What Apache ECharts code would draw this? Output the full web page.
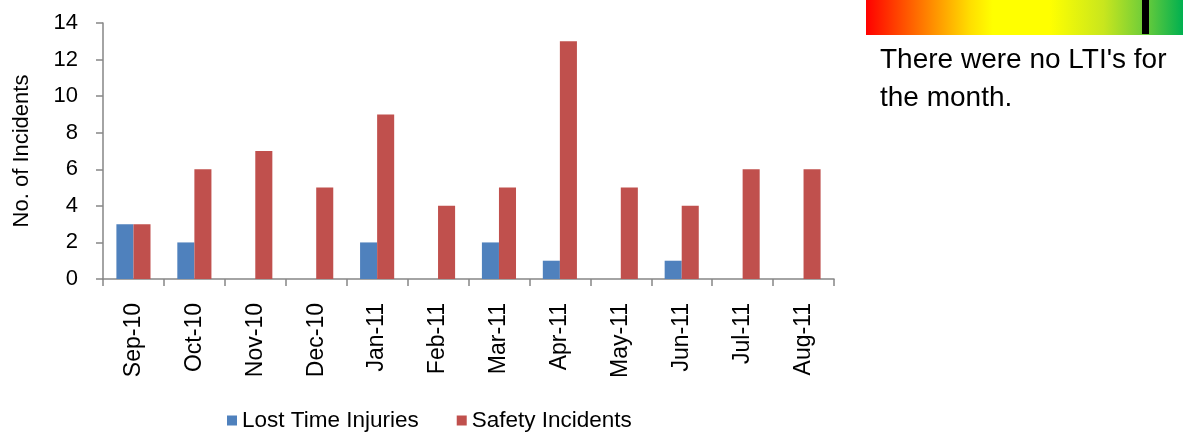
<!DOCTYPE html>
<html><head><meta charset="utf-8">
<script src="https://cdn.jsdelivr.net/npm/echarts@6/dist/echarts.min.js"></script>
<style>html,body{margin:0;padding:0;background:#fff}#c{width:1183px;height:433px}</style>
</head><body><div id="c"></div>
<script>
const categories = ['Sep-10','Oct-10','Nov-10','Dec-10','Jan-11','Feb-11','Mar-11','Apr-11','May-11','Jun-11','Jul-11','Aug-11'];
const lostTimeInjuries = [3,2,0,0,2,0,2,1,0,1,0,0];
const safetyIncidents = [3,6,7,5,9,4,5,13,5,4,6,6];
const seriesNames = ['Lost Time Injuries','Safety Incidents'];
const yAxisTitle = 'No. of Incidents';
const noteLines = ["There were no LTI's for", 'the month.'];

const font = '"Liberation Sans", Arial, sans-serif';
const chart = echarts.init(document.getElementById('c'), null, {renderer:'canvas'});
chart.setOption({
  animation:false,
  textStyle:{fontFamily:font},
  grid:{left:103,right:349,top:23,bottom:154,containLabel:false},
  legend:{
    data:seriesNames, left:222, top:404, itemWidth:10, itemHeight:10, itemGap:38,
    icon:'rect', textStyle:{fontSize:22.5,color:'#000',fontFamily:font}
  },
  xAxis:{
    type:'category', data:categories,
    axisLine:{lineStyle:{color:'#868686',width:1.5}},
    axisTick:{show:true,length:7,alignWithLabel:false,lineStyle:{color:'#868686',width:1.5}},
    axisLabel:{rotate:90,fontSize:23,color:'#000',margin:24,fontFamily:font}
  },
  yAxis:{
    type:'value', min:0, max:14, interval:2,
    name:yAxisTitle, nameLocation:'middle', nameGap:70, nameRotate:90,
    nameTextStyle:{fontSize:22,color:'#000',fontFamily:font},
    axisLine:{show:true,lineStyle:{color:'#868686',width:1.5}},
    axisTick:{show:true,length:7,lineStyle:{color:'#868686',width:1.5}},
    splitLine:{show:false},
    axisLabel:{fontSize:22,color:'#000',margin:25,fontFamily:font}
  },
  series:[
    {name:seriesNames[0],type:'bar',data:lostTimeInjuries,barGap:'0%',barCategoryGap:'44%',itemStyle:{color:'#4f81bd'}},
    {name:seriesNames[1],type:'bar',data:safetyIncidents,barGap:'0%',barCategoryGap:'44%',itemStyle:{color:'#c0504d'}}
  ],
  graphic:[
    {type:'rect',left:866,top:0,shape:{width:317,height:35},
     style:{fill:new echarts.graphic.LinearGradient(0,0,1,0,[
       {offset:0,color:'#ff0000'},
       {offset:0.18,color:'#ff7a00'},
       {offset:0.33,color:'#ffdf00'},
       {offset:0.4,color:'#ffff00'},
       {offset:0.58,color:'#ffff00'},
       {offset:0.75,color:'#c8e61e'},
       {offset:0.88,color:'#6ccc3a'},
       {offset:1,color:'#00b050'}
     ])}},
    {type:'rect',left:1142,top:0,shape:{width:7,height:34},style:{fill:'#000'}},
    {type:'text',left:880,top:41,style:{text:noteLines.join('\n'),font:'28px '+font,fill:'#000',lineHeight:38}}
  ]
});
</script></body></html>
